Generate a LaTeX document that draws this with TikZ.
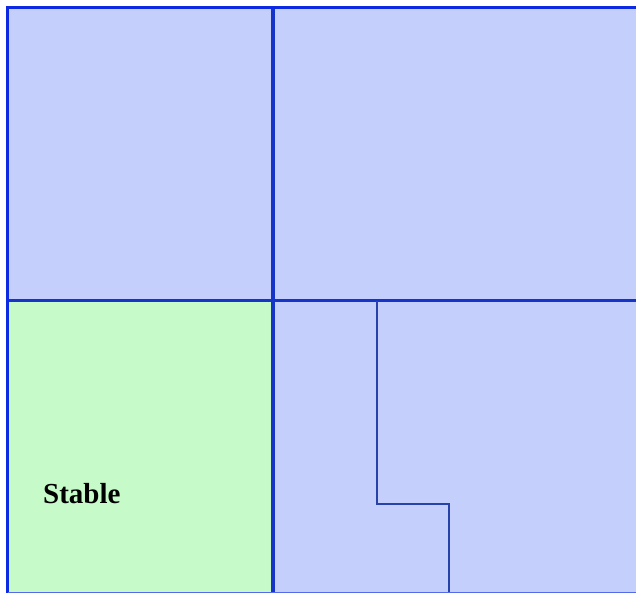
\documentclass[tikz,border=0pt]{standalone}
\usepackage{fontspec}
\setmainfont{Liberation Serif}
\definecolor{cellblue}{RGB}{197,207,252}
\definecolor{cellgreen}{RGB}{198,251,201}
\definecolor{outerline}{RGB}{12,42,225}
\definecolor{innerline}{RGB}{22,52,200}
\definecolor{stepline}{RGB}{40,66,170}
\begin{document}
\begin{tikzpicture}[x=1pt,y=-1pt,
  outer/.style={draw=outerline,line width=3.2pt},
  inner/.style={draw=innerline,line width=3.2pt},
  stepped/.style={draw=stepline,line width=2pt},
  lbl/.style={font=\fontsize{29}{33}\selectfont\bfseries,text=black,anchor=base west,inner sep=0pt}]
\useasboundingbox (0,0) rectangle (636,593);
% fills
\fill[cellblue] (7.5,7.5) rectangle (640,593);
\fill[cellgreen] (7.5,300.5) rectangle (273,593);
% inner dividers
\draw[inner] (273,7.5) -- (273,593);
\draw[inner] (7.5,300.5) -- (640,300.5);
% stepped boundary
\draw[stepped] (377,300.5) -- (377,503.5) -- (449,503.5) -- (449,593);
% outer border
\draw[outer] (7.5,595) -- (7.5,7.5) -- (640,7.5);
\draw[draw=outerline!70,line width=1.5pt] (7.5,592.5) -- (640,592.5);
% label
\node[lbl] (stable) at (43,503) {Stable};
\end{tikzpicture}
\end{document}
